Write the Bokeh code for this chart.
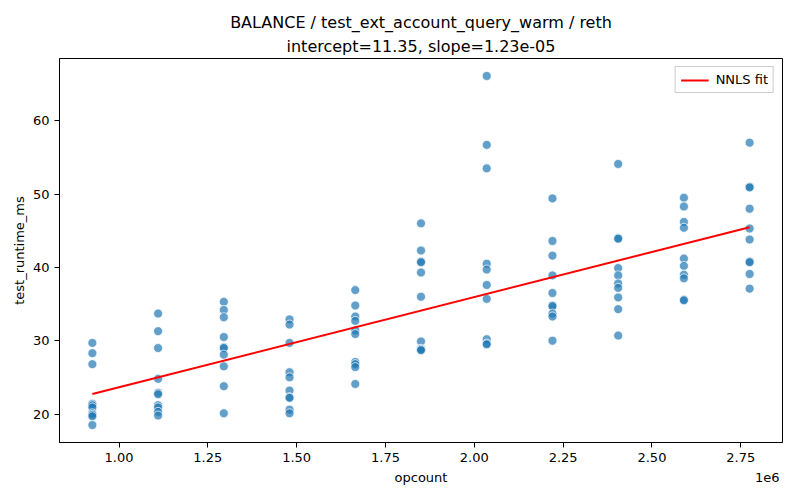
from bokeh.plotting import figure
from bokeh.models import (Title, FixedTicker, CustomJSTickFormatter, Range1d, Legend,
                          LegendItem, ColumnDataSource, LinearAxis)
from bokeh.embed import file_html
from bokeh.resources import INLINE

# ---- data ----
opcount_levels = [925000, 1110000, 1295000, 1480000, 1665000, 1850000,
                  2035000, 2220000, 2405000, 2590000, 2775000]
rt_925k = [29.7, 28.3, 26.8, 21.4, 21.2, 20.9, 20.1, 19.9, 19.7, 18.5]
rt_1110k = [33.7, 31.3, 29.0, 24.8, 22.9, 22.7, 21.2, 20.9, 20.3, 19.8]
rt_1295k = [35.3, 34.2, 33.2, 30.5, 29.1, 29.0, 28.1, 26.5, 23.8, 20.1]
rt_1480k = [32.9, 32.2, 29.7, 25.7, 25.0, 23.2, 22.3, 22.2, 20.6, 20.1]
rt_1665k = [36.9, 34.8, 33.3, 32.7, 31.4, 30.9, 27.1, 26.8, 26.4, 24.1]
rt_1850k = [46.0, 42.3, 40.8, 40.7, 39.3, 36.0, 29.9, 28.9, 28.8, 28.7]
rt_2035k = [66.1, 56.7, 53.5, 40.5, 39.7, 37.6, 35.7, 30.2, 29.6, 29.5]
rt_2220k = [49.4, 43.6, 41.6, 38.9, 36.5, 34.8, 34.7, 33.7, 33.3, 30.0]
rt_2405k = [54.1, 44.0, 43.9, 39.9, 38.9, 37.8, 37.2, 35.9, 34.3, 30.7]
rt_2590k = [49.5, 48.3, 46.2, 45.4, 41.2, 40.2, 39.0, 38.5, 35.6, 35.5]
rt_2775k = [57.0, 51.0, 50.9, 48.0, 45.3, 43.8, 40.8, 40.7, 39.1, 37.1]
runtimes = [rt_925k, rt_1110k, rt_1295k, rt_1480k, rt_1665k, rt_1850k,
            rt_2035k, rt_2220k, rt_2405k, rt_2590k, rt_2775k]

intercept = 11.35
slope = 1.23e-05

x_ticks = [1.0e6, 1.25e6, 1.5e6, 1.75e6, 2.0e6, 2.25e6, 2.5e6, 2.75e6]
y_ticks = [20, 30, 40, 50, 60]

title_line1 = "BALANCE / test_ext_account_query_warm / reth"
title_line2 = f"intercept={intercept:.2f}, slope={slope:.2e}"
x_label = "opcount"
x_offset_text = "1e6"
y_label = "test_runtime_ms"

xs, ys = [], []
for lvl, vals in zip(opcount_levels, runtimes):
    for v in vals:
        xs.append(lvl)
        ys.append(v)

fit_x = [min(opcount_levels), max(opcount_levels)]
fit_y = [intercept + slope * v for v in fit_x]

FONT = "DejaVu Sans"

p = figure(width=784, height=490, output_backend="svg", toolbar_location=None,
           min_border_left=59, min_border_right=2, min_border_top=58, min_border_bottom=48)

xspan = max(opcount_levels) - min(opcount_levels)
x0, x1 = min(opcount_levels) - 0.05 * xspan, max(opcount_levels) + 0.05 * xspan
p.x_range = Range1d(x0, x1)
yspan = max(ys) - min(ys)
p.y_range = Range1d(min(ys) - 0.05 * yspan, max(ys) + 0.05 * yspan)

src = ColumnDataSource(dict(x=xs, y=ys))
p.scatter("x", "y", source=src, size=9, fill_color="#1f77b4", fill_alpha=0.7,
          line_color="white", line_width=0.8, line_alpha=0.9)
fit = p.line(fit_x, fit_y, line_color="red", line_width=2)

legend = Legend(items=[LegendItem(label="NNLS fit", renderers=[fit])],
                location="top_right", margin=8, padding=5, spacing=0,
                glyph_width=28, glyph_height=14, label_text_font=FONT,
                label_text_font_size="13px", label_text_color="black",
                label_standoff=7, label_height=14,
                border_line_color="#cccccc", border_line_alpha=1.0,
                background_fill_alpha=0.8)
p.add_layout(legend)

p.title.text = title_line1
p.title.align = "center"
p.title.text_font = FONT
p.title.text_font_size = "16px"
p.title.text_font_style = "normal"
p.title.text_color = "black"
p.title.standoff = 2
p.add_layout(Title(text=title_line2, align="center", text_font=FONT,
                   text_font_size="16px", text_font_style="normal",
                   text_color="black", standoff=5), "above")

p.xgrid.visible = False
p.ygrid.visible = False
p.outline_line_color = "black"
p.outline_line_width = 1


def style_axis(ax):
    ax.axis_line_color = "black"
    ax.major_tick_line_color = "black"
    ax.major_tick_out = 5
    ax.major_tick_in = 0
    ax.minor_tick_line_color = None
    ax.major_label_text_font = FONT
    ax.major_label_text_font_size = "13px"
    ax.major_label_text_color = "black"
    ax.axis_label_text_font = FONT
    ax.axis_label_text_font_size = "13px"
    ax.axis_label_text_font_style = "normal"
    ax.axis_label_text_color = "black"


style_axis(p.xaxis[0])
style_axis(p.yaxis[0])

p.xaxis[0].ticker = FixedTicker(ticks=x_ticks)
p.xaxis[0].formatter = CustomJSTickFormatter(code="return (tick/1e6).toFixed(2);")
p.xaxis[0].major_label_standoff = 5

p.yaxis.ticker = FixedTicker(ticks=y_ticks)
p.yaxis.axis_label = y_label
p.yaxis.major_label_standoff = 5
p.yaxis.axis_label_standoff = 3

# second, line-less axis carrying the axis label and the "1e6" offset text
ax2 = LinearAxis()
style_axis(ax2)
ax2.axis_line_color = None
ax2.major_tick_line_color = None
ax2.major_tick_out = 0
ax2.ticker = FixedTicker(ticks=[x1 - 0.021 * (x1 - x0)])
ax2.formatter = CustomJSTickFormatter(code=f"return '{x_offset_text}';")
ax2.major_label_standoff = 8
ax2.axis_label = x_label
ax2.axis_label_standoff = -15
p.add_layout(ax2, "below")

open("out.html", "w").write(file_html(p, INLINE))
